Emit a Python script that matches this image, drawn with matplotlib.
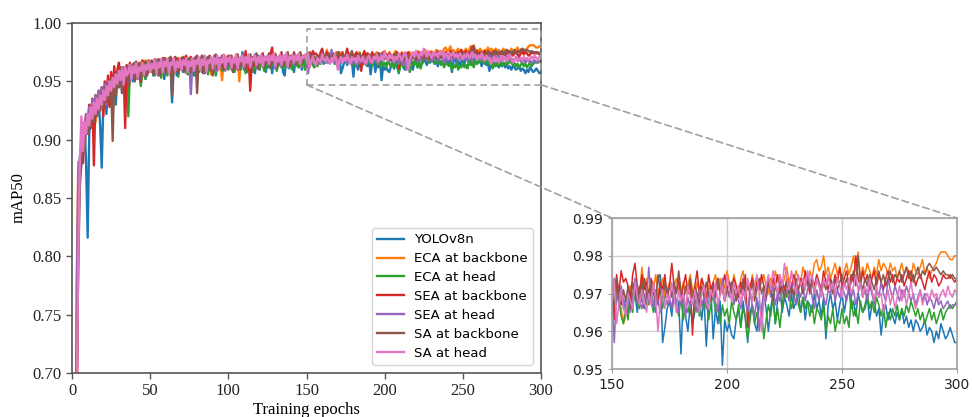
import numpy as np
import matplotlib
matplotlib.use("Agg")
import matplotlib.pyplot as plt
from matplotlib.patches import Rectangle, ConnectionPatch

# mAP50 per epoch, in thousandths
yolov8n = """
120 420 690 830 870 880 895 912 880 816 905 918 926 910 930 921 935 912 876 930 940 922 945 930 950
938 952 930 955 945 960 940 957 948 963 945 958 962 950 966 955 962 958 948 965 960 952 966 958 963
967 955 962 968 957 965 960 968 952 965 969 958 963 932 960 968 955 966 961 970 958 965 969 956 966
962 970 955 966 968 959 967 963 971 957 966 969 960 968 964 972 956 967 962 970 958 966 971 961 968
963 970 958 968 972 960 967 964 975 961 969 958 970 966 962 971 957 968 972 960 969 963 971 958 968
962 972 957 968 973 960 969 964 971 958 955 968 972 961 969 966 958 971 967 962 972 960 969 965 968
974 973 968 970 966 969 964 972 967 970 965 971 968 966 970 969 972 967 965 974 975 957 961 966 968
964 970 966 968 954 969 964 960 967 962 965 970 968 963 969 956 967 971 958 966 962 968 951 963 960
962 959 958 963 966 961 968 963 957 965 967 962 960 968 964 970 966 960 966 970 962 968 972 965 969
967 964 970 966 968 971 965 969 963 968 967 965 970 966 968 964 969 958 967 970 966 968 963 967 970
965 969 971 966 968 964 970 967 965 966 969 963 967 968 964 966 959 965 967 963 966 964 962 965 963
966 962 964 961 963 960 963 962 960 961 963 959 961 960 957 960 958 962 960 958 959 961 959 957 957
"""
eca_backbone = """
150 500 780 881 870 890 912 905 920 915 928 910 932 925 915 938 926 942 930 945 932 948 936 952 940
955 942 958 946 952 960 945 962 950 957 963 948 960 955 965 952 962 958 966 954 963 968 957 965 961
966 958 968 961 964 969 955 967 962 970 958 966 964 969 957 967 963 970 960 968 965 971 957 968 963
970 959 967 964 971 958 968 965 972 960 967 963 971 956 968 966 972 959 969 964 951 968 972 961 969
965 972 959 969 966 973 950 970 964 971 962 969 966 973 960 970 965 972 961 970 967 974 962 969 966
973 963 970 967 974 962 971 965 973 964 970 968 974 962 971 966 973 964 970 968 974 963 971 966 970
973 971 968 966 962 964 970 972 968 973 971 969 977 972 974 970 973 971 975 970 972 974 969 971 973
970 972 974 971 969 973 970 972 975 971 969 973 970 974 971 968 972 970 973 975 971 974 970 972 976
973 971 975 972 970 974 976 971 973 970 975 972 974 971 973 975 972 970 974 972 976 973 975 972 974
977 973 975 972 976 974 973 977 975 972 976 974 978 979 976 977 980 975 977 974 976 978 975 977 974
976 978 975 977 980 976 981 974 977 975 978 976 974 977 975 979 976 978 977 975 978 976 977 974 976
978 975 977 976 974 978 976 975 977 979 975 977 974 976 977 978 980 981 981 981 980 979 979 980 980
"""
eca_head = """
100 450 720 850 878 890 905 900 918 912 925 915 935 922 938 928 940 930 942 935 945 938 948 930 950
920 952 940 955 945 958 950 960 948 962 920 958 955 963 950 962 957 964 946 960 963 952 966 958 964
961 966 955 964 959 967 953 965 960 968 955 963 967 958 965 961 968 954 966 960 967 963 958 966 956
966 960 968 955 967 962 969 958 966 963 970 956 967 961 968 964 955 968 962 966 959 969 963 967 960
968 962 969 958 967 963 970 960 968 964 957 969 962 967 965 958 970 963 968 960 970 964 959 968 962
969 961 970 964 968 959 969 964 962 970 961 968 964 969 963 960 970 963 968 962 971 964 969 960 968
967 972 968 964 962 967 963 970 965 972 968 966 973 969 967 971 968 965 970 967 972 966 969 971 968
966 970 967 964 969 963 967 965 968 962 966 970 964 968 966 969 963 967 970 965 968 962 967 964 966
962 968 965 963 967 961 966 964 958 963 967 962 965 961 966 958 963 967 964 969 962 966 961 967 972
969 971 966 968 972 967 965 969 966 968 964 967 962 966 965 963 967 960 964 962 966 960 963 962 966
962 964 961 969 964 966 962 968 965 967 970 966 968 965 969 967 964 967 961 965 963 966 964 967 963
966 964 967 965 968 966 964 966 963 965 962 964 966 963 965 962 964 966 963 965 966 967 966 967 968
"""
sea_backbone = """
80 300 640 820 870 895 880 910 922 905 930 915 935 878 938 925 942 930 945 920 950 935 955 928 958
940 963 945 960 966 950 962 958 910 964 948 966 955 963 952 967 957 964 950 968 960 965 955 968 962
967 958 969 962 956 968 961 970 958 967 963 970 957 968 964 971 959 969 962 970 960 968 972 962 969
971 961 969 965 972 958 968 964 971 960 969 966 972 959 968 965 973 961 970 963 972 960 969 966 972
964 971 967 962 973 960 970 967 972 963 976 965 970 942 968 971 964 973 962 970 968 974 963 971 967
970 974 979 966 973 962 971 968 975 964 971 969 974 963 972 967 975 965 972 969 974 966 972 970 973
963 975 970 976 973 974 972 968 975 978 972 970 975 971 973 969 974 972 970 968 973 971 975 969 972
978 972 970 974 968 972 975 970 973 959 972 976 970 974 972 968 975 971 973 969 974 970 972 975 971
973 970 974 972 969 973 971 975 961 972 974 970 973 971 975 972 969 973 971 974 972 975 970 973 971
974 972 970 975 973 971 974 972 976 973 970 974 972 975 973 971 976 973 971 974 972 975 973 977 972
974 976 972 975 973 980 974 972 976 973 975 971 974 976 972 975 973 971 974 976 973 975 972 974 973
975 972 974 976 973 975 972 974 975 973 971 974 976 973 975 974 972 973 975 974 974 975 974 973 974
"""
sea_head = """
110 480 760 870 885 900 915 908 922 912 928 918 934 925 938 929 942 932 945 936 948 930 950 940 952
944 955 947 958 950 960 945 962 953 958 962 950 964 956 960 966 952 963 958 965 955 966 960 963 967
958 966 961 968 955 965 962 969 957 966 963 970 956 967 960 968 962 959 966 963 969 958 967 964 970
939 966 962 970 958 968 964 971 957 967 963 970 960 969 965 972 958 968 962 970 964 971 959 969 966
972 960 969 964 971 961 970 966 973 960 969 965 971 962 970 967 973 961 969 965 972 963 970 966 971
964 971 967 973 961 970 966 972 963 971 967 973 962 970 968 972 964 971 966 973 965 970 968 972 969
957 970 967 972 968 966 970 965 969 974 971 968 966 970 968 977 969 966 971 968 965 970 972 967 969
966 971 968 965 970 967 964 969 966 970 968 965 971 967 969 966 970 968 972 967 965 970 974 968 971
969 973 967 970 968 966 971 968 965 970 967 964 969 960 966 971 968 974 969 972 967 970 968 972 969
971 968 973 970 967 971 969 972 968 971 973 969 966 971 968 972 969 967 971 970 973 968 971 969 972
970 968 972 969 971 967 970 973 969 971 968 972 970 967 971 969 973 970 968 974 971 969 972 970 968
971 969 972 970 968 970 967 969 971 968 970 967 969 968 966 969 967 968 966 967 968 966 967 967 967
"""
sa_backbone = """
90 400 700 793 860 880 900 890 912 905 920 910 928 915 932 920 936 925 940 928 945 932 948 935 952
899 955 938 958 945 962 940 960 950 963 945 961 955 965 950 963 958 966 952 964 960 967 955 965 961
968 956 966 962 969 955 967 963 970 958 968 964 971 938 966 962 970 957 968 964 971 959 969 965 970
958 968 963 971 940 969 964 972 957 968 965 971 960 969 955 968 972 961 970 964 972 960 969 966 971
963 972 958 970 966 973 961 970 965 972 960 971 967 973 962 970 966 974 961 971 968 973 963 970 967
974 962 971 966 973 964 971 968 974 963 972 967 975 964 971 969 974 965 972 968 975 966 971 969 973
971 974 969 967 971 968 972 966 973 970 968 972 969 974 970 967 973 970 968 975 971 969 973 970 972
969 973 970 976 971 968 972 970 974 969 972 970 967 972 969 973 970 968 972 969 974 970 972 968 971
970 973 971 968 972 970 974 969 972 970 973 968 971 974 970 972 969 973 971 968 972 970 974 971 969
973 970 972 969 974 971 973 970 972 975 971 973 970 974 972 970 973 971 975 972 970 974 971 973 975
972 974 971 973 976 972 980 973 971 974 972 975 973 971 974 976 973 975 972 974 976 973 975 974 976
973 975 977 974 976 973 975 977 974 976 975 977 978 977 976 977 976 975 976 975 975 974 975 974 974
"""
sa_head = """
60 350 680 800 880 920 890 915 905 922 912 928 918 932 922 935 926 938 930 942 934 946 938 950 942
953 945 956 948 959 951 961 947 962 955 958 964 952 963 957 965 954 962 959 966 956 964 960 967 958
965 961 968 957 966 962 969 958 967 963 969 957 966 964 970 959 967 962 969 960 968 964 970 958 967
963 970 959 968 965 971 960 969 964 972 958 968 966 971 961 970 965 972 960 969 966 973 962 970 967
971 962 970 966 973 961 970 967 972 963 971 966 973 962 970 968 972 964 971 966 973 963 971 968 972
965 972 968 974 963 971 967 973 964 972 968 974 963 971 969 973 966 972 968 974 965 971 970 973 968
974 962 967 971 966 964 970 968 966 973 969 967 971 968 965 970 967 973 969 960 968 971 966 970 968
973 969 965 971 968 970 966 972 969 967 971 968 965 970 972 968 966 971 969 973 967 970 972 968 975
971 968 973 970 972 967 971 969 974 971 968 972 975 970 960 968 972 975 971 976 973 970 975 972 978
974 971 976 973 970 975 972 974 971 976 973 975 970 974 972 969 974 972 975 971 973 970 974 972 969
973 971 974 970 972 975 971 973 969 972 970 974 971 968 972 969 970 965 968 971 967 970 966 969 972
968 971 967 970 973 969 966 968 971 967 969 970 968 971 969 970 968 970 971 969 972 970 969 971 970
"""

labels = ["YOLOv8n", "ECA at backbone", "ECA at head", "SEA at backbone",
          "SEA at head", "SA at backbone", "SA at head"]
raw = [yolov8n, eca_backbone, eca_head, sea_backbone, sea_head, sa_backbone, sa_head]
colors = ["#1f77b4", "#ff7f0e", "#2ca02c", "#d62728", "#9467bd", "#8c564b", "#e377c2"]

series = [np.array(s.split(), dtype=float) / 1000 for s in raw]

serif = "Liberation Serif"
fig = plt.figure(figsize=(9.72, 4.17), dpi=100)

# main axes
ax = fig.add_axes([0.0741, 0.1055, 0.4825, 0.8393])
for vals, lab, c in zip(series, labels, colors):
    ep = np.arange(1, len(vals) + 1)
    ax.plot(ep, vals, color=c, lw=1.7, label=lab)
ax.set_xlim(0, 300)
ax.set_ylim(0.70, 1.00)
ax.set_xticks([0, 50, 100, 150, 200, 250, 300])
ax.set_yticks([0.70, 0.75, 0.80, 0.85, 0.90, 0.95, 1.00])
ax.set_yticklabels(["%.2f" % v for v in ax.get_yticks()])
for sp in ax.spines.values():
    sp.set_color("#555555")
    sp.set_linewidth(1.2)
ax.tick_params(colors="#555555", labelcolor="#222222", width=1.0, length=4)
for t in ax.get_xticklabels() + ax.get_yticklabels():
    t.set_fontfamily(serif)
    t.set_fontsize(12)
ax.set_xlabel("Training epochs", fontfamily=serif, fontsize=12, labelpad=2)
ax.set_ylabel("mAP50", fontfamily=serif, fontsize=12, labelpad=4)
ax.legend(loc="lower right", fontsize=9.5, frameon=True, edgecolor="#cccccc",
          borderaxespad=0.6, handlelength=2.0, labelspacing=0.45)

# zoom rectangle on main axes
rect = Rectangle((150, 0.947), 150, 0.048, fill=False, ls=(0, (4, 2.5)),
                 lw=1.2, ec="#a0a0a0", clip_on=False, zorder=5)
ax.add_patch(rect)

# inset axes
axin = fig.add_axes([0.6296, 0.1151, 0.355, 0.3621])
for vals, c in zip(series, colors):
    ep = np.arange(1, len(vals) + 1)
    axin.plot(ep, vals, color=c, lw=1.1)
axin.set_xlim(150, 300)
axin.set_ylim(0.95, 0.99)
axin.set_xticks([150, 200, 250, 300])
axin.set_yticks([0.95, 0.96, 0.97, 0.98, 0.99])
axin.set_yticklabels(["%.2f" % v for v in axin.get_yticks()])
axin.grid(True, color="#d0d0d0", lw=1.0)
axin.set_axisbelow(True)
for sp in axin.spines.values():
    sp.set_color("#a0a0a0")
    sp.set_linewidth(1.2)
axin.tick_params(colors="#a0a0a0", labelcolor="#222222", labelsize=10, length=3)

# connector lines
for xa, xb in [(150, 0), (300, 1)]:
    con = ConnectionPatch(xyA=(xa, 0.947), coordsA=ax.transData,
                          xyB=(xb, 1), coordsB=axin.transAxes,
                          ls=(0, (4, 2.5)), lw=1.2, color="#a0a0a0")
    fig.add_artist(con)

fig.savefig("out.png", dpi=100)
